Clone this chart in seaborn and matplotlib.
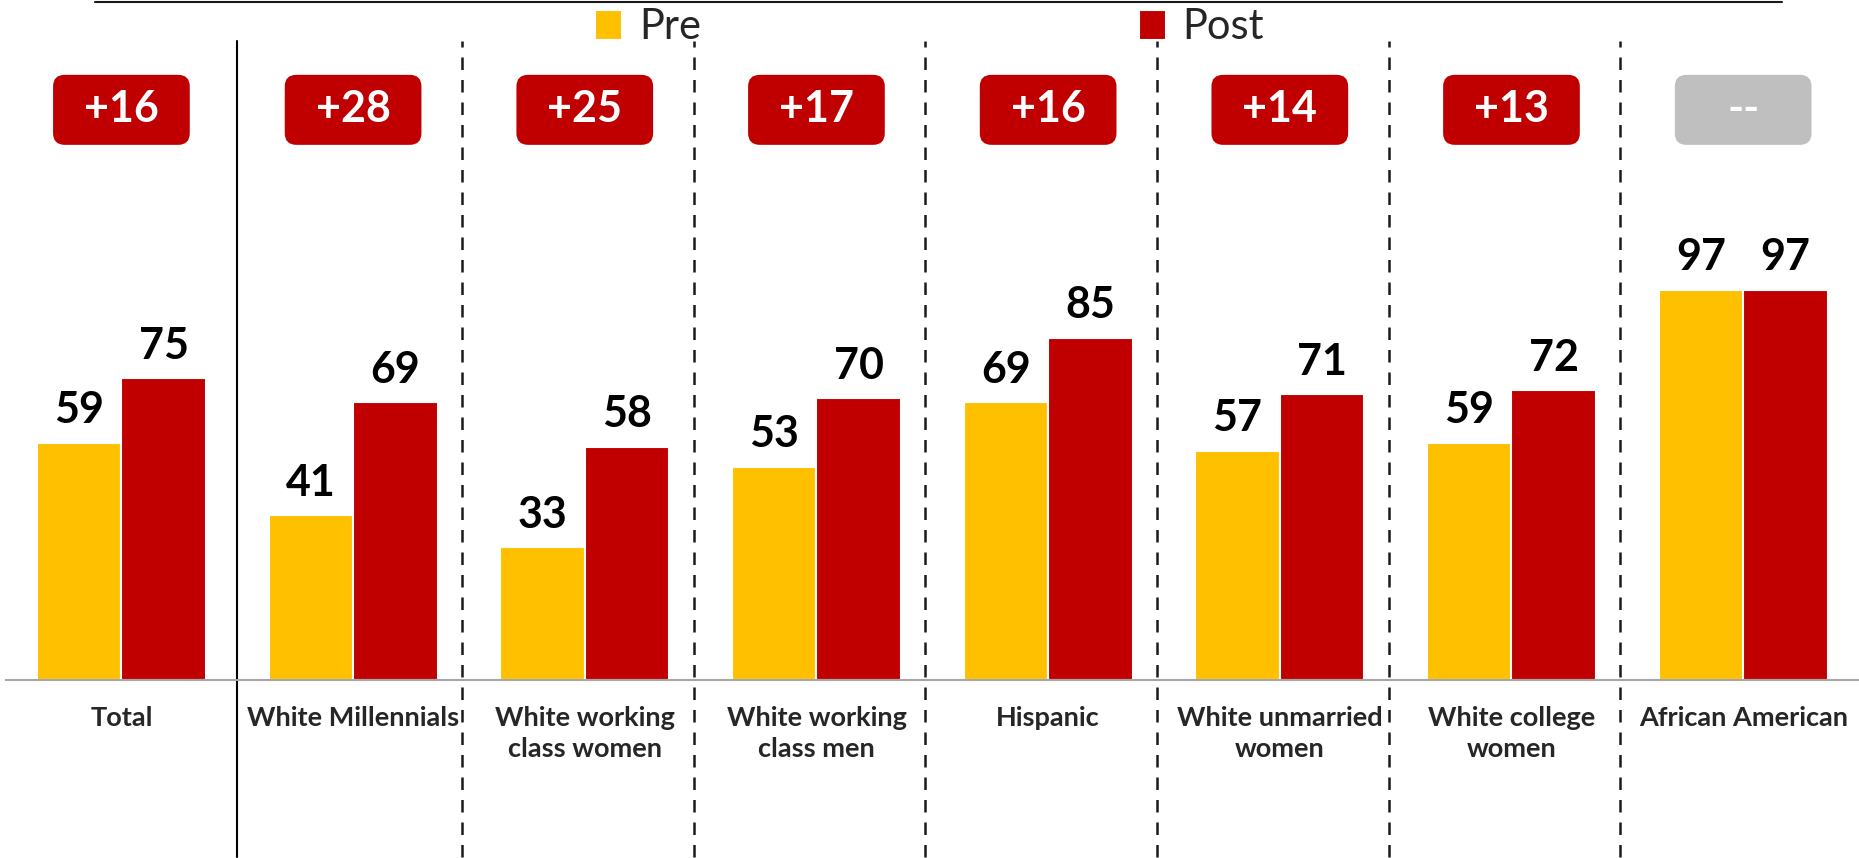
import pandas as pd
import matplotlib.pyplot as plt
import seaborn as sns
from matplotlib.patches import FancyBboxPatch
from matplotlib.lines import Line2D

# data
groups = ["Total", "White Millennials", "White working\nclass women", "White working\nclass men",
          "Hispanic", "White unmarried\nwomen", "White college\nwomen", "African American"]
pre = [59, 41, 33, 53, 69, 57, 59, 97]
post = [75, 69, 58, 70, 85, 71, 72, 97]
change = ["+16", "+28", "+25", "+17", "+16", "+14", "+13", "--"]

yellow = "#FFC000"
red = "#C00000"
grey = "#BFBFBF"

sns.set_style("white")
plt.rcParams['font.family'] = ['Lato', 'DejaVu Sans']

df = pd.DataFrame({
    "group": groups * 2,
    "value": pre + post,
    "when": ["Pre"] * len(groups) + ["Post"] * len(groups),
})

fig = plt.figure(figsize=(18.59, 8.58), dpi=100)
ax = fig.add_axes([0.003, 0.2075, 0.997, 0.7925])

sns.barplot(data=df, x="group", y="value", hue="when", order=groups, hue_order=["Pre", "Post"],
            palette=[yellow, red], width=0.73, edgecolor="white", linewidth=1.5,
            saturation=1, ax=ax)

ax.set_xlim(-0.5, len(groups) - 0.5)
ax.set_ylim(0, 169)
ax.set_ylabel("")
ax.set_xlabel("")
ax.set_yticks([])

for c in ax.containers:
    ax.bar_label(c, fmt="%d", padding=9, fontsize=31, fontweight="bold", color="black")

# category labels + boundary ticks
ax.set_xticks(range(len(groups)))
ax.set_xticklabels(groups, fontsize=19.5, fontweight="bold", linespacing=1.32)
ax.tick_params(axis="x", which="major", length=0, pad=19)
ax.set_xticks([i - 0.5 for i in range(len(groups) + 1)], minor=True)
ax.tick_params(axis="x", which="minor", length=6, width=1.5, color="#A6A6A6", direction="out")

for s in ["top", "right", "left"]:
    ax.spines[s].set_visible(False)
ax.spines["bottom"].set_color("#A6A6A6")
ax.spines["bottom"].set_linewidth(1.5)

# separators
ax.plot([0.5, 0.5], [-44, 158.7], color="black", lw=1.5, clip_on=False)
for k in range(1, len(groups) - 1):
    ax.plot([k + 0.47, k + 0.47], [-44, 158.7], color="#1a1a1a", lw=1.8,
            linestyle=(0, (5, 4)), clip_on=False)

# change boxes
for i, lab in enumerate(change):
    fc = grey if lab == "--" else red
    box = FancyBboxPatch((i - 0.295, 133), 0.59, 17.4,
                         boxstyle="round,pad=0,rounding_size=0.05",
                         mutation_aspect=57.6, fc=fc, ec="none")
    ax.add_patch(box)
    ax.text(i, 141.9, lab, ha="center", va="center", fontsize=31,
            fontweight="bold", color="white")

# legend
handles, labels = ax.get_legend_handles_labels()
ax.legend(handles, labels, loc="upper center", bbox_to_anchor=(0.5, 1.0),
          bbox_transform=fig.transFigure, ncol=2, frameon=False, fontsize=30,
          handlelength=0.65, handleheight=0.75, handletextpad=0.4,
          columnspacing=10.5, borderaxespad=-0.2)

fig.add_artist(Line2D([95 / 1859, 1782 / 1859], [0.998, 0.998], color="#1a1a1a", lw=1.5))

fig.savefig("out.png", dpi=100)
